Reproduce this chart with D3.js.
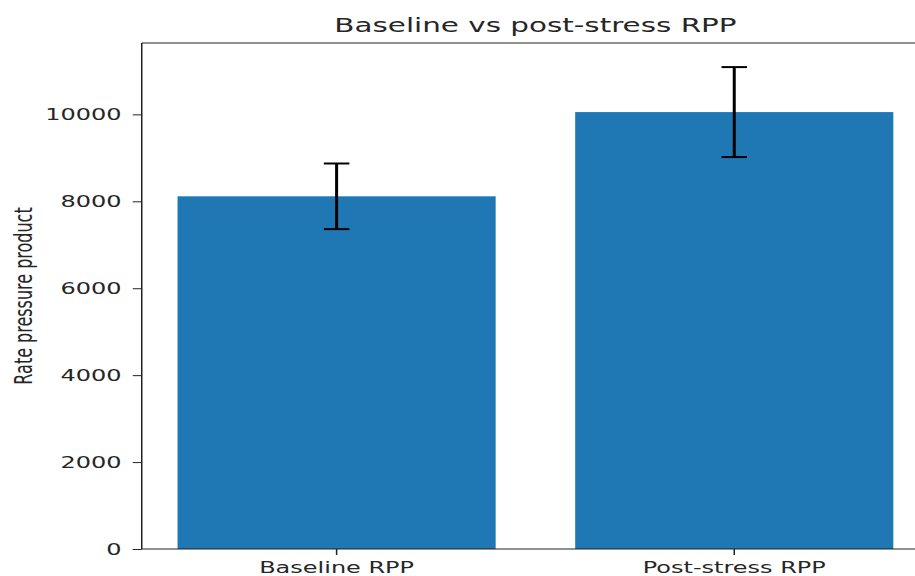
<!DOCTYPE html>
<html>
<head>
<meta charset="utf-8">
<script src="https://cdn.jsdelivr.net/npm/d3@7"></script>
<style>
  html, body { margin: 0; padding: 0; background: #fff; }
  svg { display: block; }
  text { font-family: "DejaVu Sans", sans-serif; fill: #262626; }
</style>
</head>
<body>
<svg id="chart" width="915" height="576"></svg>
<script>
// ---- data ----
const categories = ["Baseline RPP", "Post-stress RPP"];
const values = [8115, 10053];
const errors = [755, 1035];
const yTicks = [0, 2000, 4000, 6000, 8000, 10000];
const titleText = "Baseline vs post-stress RPP";
const yLabelText = "Rate pressure product";

(function () {
// ---- layout (drawn in an unstretched frame, then stretched horizontally) ----
const sx = 1.5;
const pLeft = 94.5, pRight = 619.4, pTop = 43, pBottom = 549;

const svg = d3.select("#chart");
const g = svg.append("g").attr("transform", `scale(${sx},1)`);

const x = d3.scaleBand().domain(categories).range([pLeft, pRight])
  .paddingInner(0.2).paddingOuter(0.09);
const yMax = d3.max(values.map((v, i) => v + errors[i])) * 1.05;
const y = d3.scaleLinear().domain([0, yMax]).range([pBottom, pTop]);

// bars
g.selectAll("rect.bar").data(categories).join("rect")
  .attr("class", "bar")
  .attr("x", d => x(d))
  .attr("width", x.bandwidth())
  .attr("y", (d, i) => y(values[i]))
  .attr("height", (d, i) => y(0) - y(values[i]))
  .attr("fill", "#1f77b4");

// error bars
const cap = 8.5;
const eb = g.selectAll("g.err").data(categories).join("g").attr("class", "err");
eb.append("line")
  .attr("x1", d => x(d) + x.bandwidth() / 2)
  .attr("x2", d => x(d) + x.bandwidth() / 2)
  .attr("y1", (d, i) => y(values[i] - errors[i]))
  .attr("y2", (d, i) => y(values[i] + errors[i]))
  .attr("stroke", "#000").attr("stroke-width", 2);
[-1, 1].forEach(s => {
  eb.append("line")
    .attr("x1", d => x(d) + x.bandwidth() / 2 - cap)
    .attr("x2", d => x(d) + x.bandwidth() / 2 + cap)
    .attr("y1", (d, i) => y(values[i] + s * errors[i]))
    .attr("y2", (d, i) => y(values[i] + s * errors[i]))
    .attr("stroke", "#000").attr("stroke-width", 2);
});

// axes
const yAxis = d3.axisLeft(y).tickValues(yTicks).tickFormat(d3.format("d"))
  .tickSize(6).tickSizeOuter(0).tickPadding(7.5);
const yg = g.append("g").attr("transform", `translate(${pLeft},0)`).call(yAxis);
const xAxis = d3.axisBottom(x).tickSize(6).tickSizeOuter(0).tickPadding(7);
const xg = g.append("g").attr("transform", `translate(0,${pBottom})`).call(xAxis);
[yg, xg].forEach(a => {
  a.select(".domain").remove();
  a.selectAll(".tick line").attr("stroke", "#222").attr("stroke-width", 1);
  a.selectAll(".tick text").attr("font-size", 16).attr("fill", "#262626")
    .style("font-family", "DejaVu Sans, sans-serif");
});

// spines
const sp = g.append("g").attr("stroke", "#222").attr("stroke-width", 1).attr("fill", "none");
sp.append("line").attr("x1", pLeft).attr("x2", pLeft).attr("y1", pTop).attr("y2", pBottom);
sp.append("line").attr("x1", pRight).attr("x2", pRight).attr("y1", pTop).attr("y2", pBottom);
sp.append("line").attr("x1", pLeft).attr("x2", pRight).attr("y1", pTop).attr("y2", pTop);
sp.append("line").attr("x1", pLeft).attr("x2", pRight).attr("y1", pBottom).attr("y2", pBottom);

// title
g.append("text")
  .attr("x", (pLeft + pRight) / 2).attr("y", 32.5)
  .attr("text-anchor", "middle").attr("font-size", 19.6)
  .text(titleText);

// y label
g.append("text")
  .attr("transform", `translate(21,296) rotate(-90)`)
  .attr("text-anchor", "middle").attr("font-size", 16)
  .text(yLabelText);
})();
</script>
</body>
</html>
